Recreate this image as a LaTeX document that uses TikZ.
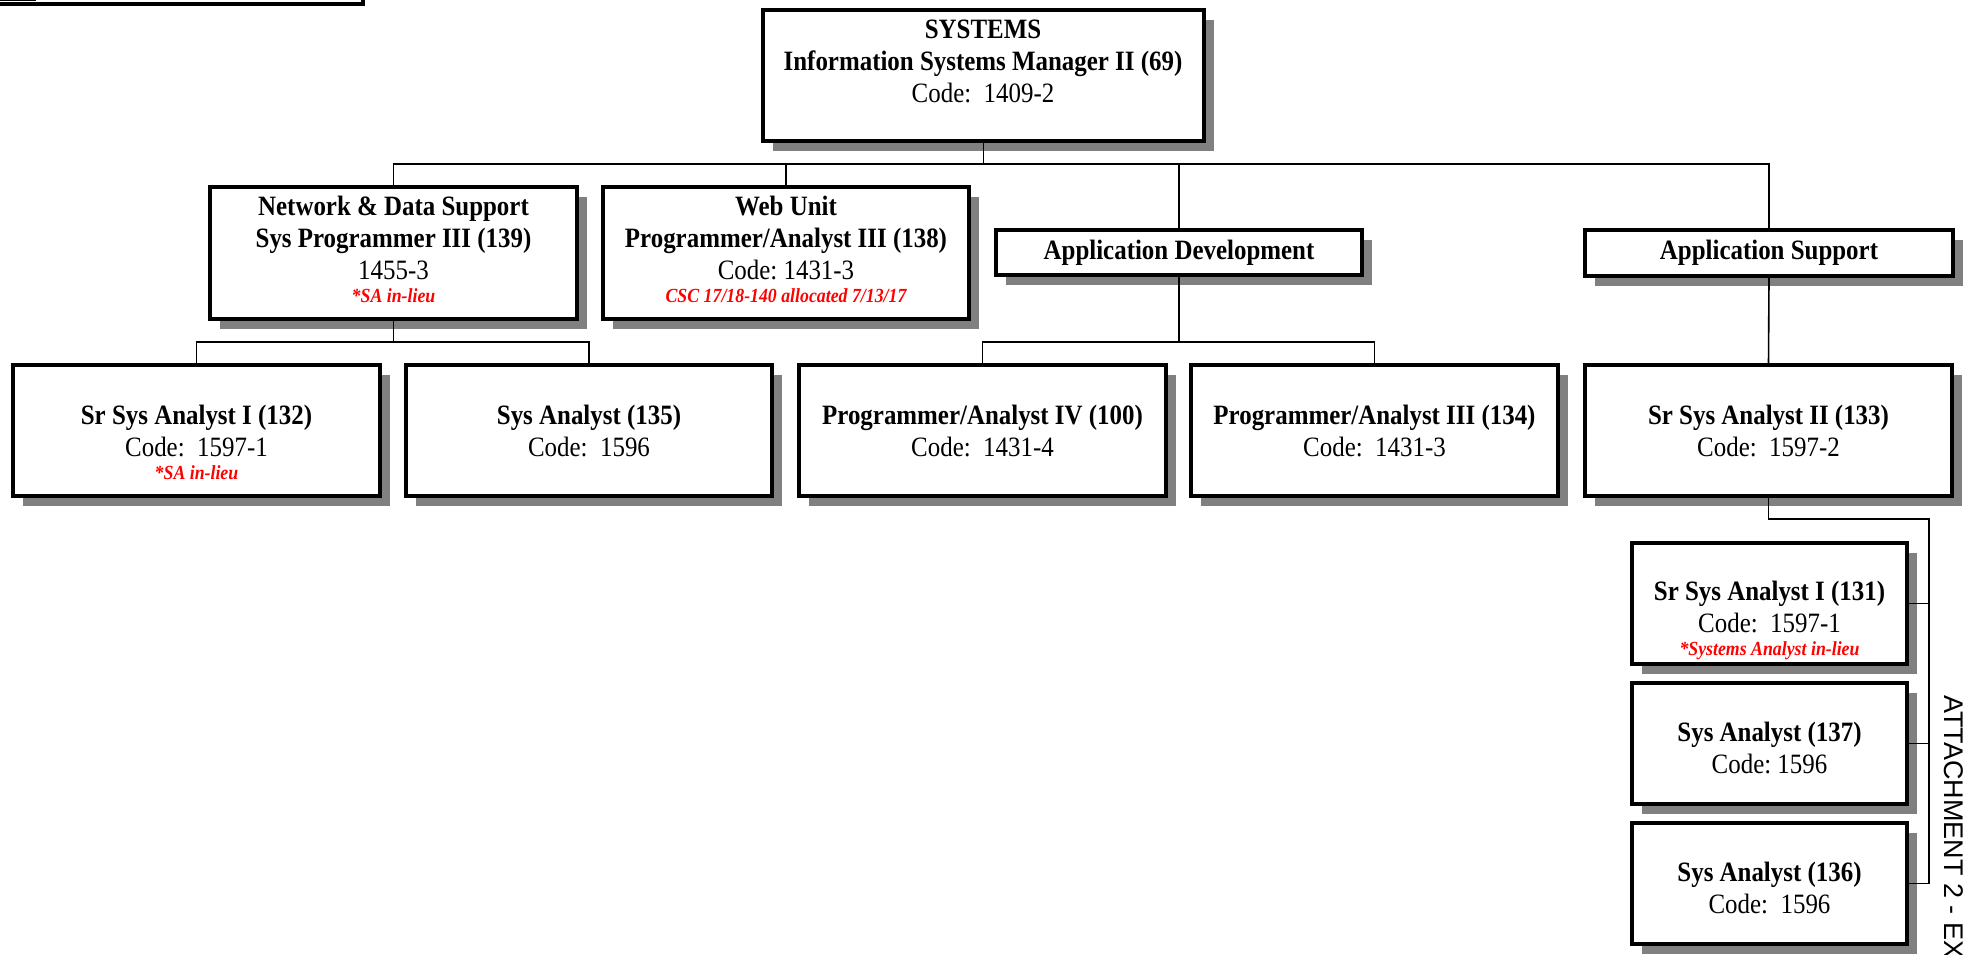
\documentclass[tikz,border=0pt]{standalone}
\usepackage{fontspec}
\setmainfont{Liberation Serif}[FakeStretch=0.89]
\newfontfamily\attfont{Liberation Sans}
\usetikzlibrary{shadows}
\definecolor{shadowgray}{HTML}{808080}
\definecolor{notered}{HTML}{FF0000}
\begin{document}
\begin{tikzpicture}[x=0.5pt, y=-0.5pt,
  box/.style 2 args={draw, line width=2pt, fill=white, inner sep=0pt,
    minimum width=#1, minimum height=#2,
    general shadow={fill=shadowgray, shadow xshift=5pt, shadow yshift=-5pt}},
  lines/.style={align=center, font=\fontsize{14}{16}\selectfont, inner sep=0pt},
  note/.style={font=\fontsize{10}{12}\selectfont\bfseries\itshape, text=notered, inner sep=0pt},
  link/.style={draw, line width=0.8pt},
  att/.style={font=\attfont\fontsize{13.5}{16}\selectfont, inner sep=0pt}]

\useasboundingbox (0,0) rectangle (1965,954);
\fill[white] (0,0) rectangle (1965,954);

% frame of the title block in the upper left corner
\draw[line width=2pt] (-20,-40) rectangle (363,4);
\draw[line width=0.6pt] (-20,-40) rectangle (35,0.5);

% head of the unit
\node[box={220.5pt}{65.5pt}] (top) at (983.5,75.5) {};
\node[lines] (top-t) at (983,61) {\textbf{SYSTEMS}\\\textbf{Information Systems Manager II (69)}\\Code:\ \ 1409-2};

% second level
\node[box={183.5pt}{66pt}] (net) at (393.5,253) {};
\node[lines] (net-t) at (393.5,237.5) {\textbf{Network \& Data Support}\\\textbf{Sys Programmer III (139)}\\1455-3};
\node[note] (net-n) at (393.5,296) {*SA in-lieu};

\node[box={183pt}{66pt}] (web) at (786,253) {};
\node[lines] (web-t) at (786,237.5) {\textbf{Web Unit}\\\textbf{Programmer/Analyst III (138)}\\Code:\ 1431-3};
\node[note] (web-n) at (786,296) {CSC 17/18-140 allocated 7/13/17};

\node[box={183pt}{22.5pt}, lines] (ad) at (1179,252.5) {\textbf{Application Development}};
\node[box={184pt}{23pt}, lines] (as) at (1769,253) {\textbf{Application Support}};

% third level
\node[box={183.5pt}{65.5pt}, lines] (sa132) at (196.5,430.5) {\textbf{Sr Sys Analyst I (132)}\\Code:\ \ 1597-1};
\node[note] (sa132-n) at (196.5,472.5) {*SA in-lieu};
\node[box={183pt}{65.5pt}, lines] (sa135) at (589,430.5) {\textbf{Sys Analyst (135)}\\Code:\ \ 1596};
\node[box={183.5pt}{65.5pt}, lines] (pa100) at (982.5,430.5) {\textbf{Programmer/Analyst IV (100)}\\Code:\ \ 1431-4};
\node[box={183.5pt}{65.5pt}, lines] (pa134) at (1374.5,430.5) {\textbf{Programmer/Analyst III (134)}\\Code:\ \ 1431-3};
\node[box={183.5pt}{65.5pt}, lines] (ssa133) at (1768.5,430.5) {\textbf{Sr Sys Analyst II (133)}\\Code:\ \ 1597-2};

% staff under Sr Sys Analyst II
\node[box={137.5pt}{60.5pt}] (ssa131) at (1769.5,603.5) {};
\node[lines] (ssa131-t) at (1769.5,607) {\textbf{Sr Sys Analyst I (131)}\\Code:\ \ 1597-1};
\node[note] (ssa131-n) at (1769.5,650.4) {*Systems Analyst in-lieu};
\node[box={137.5pt}{60.5pt}] (sa137) at (1769.5,743.5) {};
\node[lines] (sa137-t) at (1769.5,747.5) {\textbf{Sys Analyst (137)}\\Code:\ 1596};
\node[box={137.5pt}{60.5pt}] (sa136) at (1769.5,883.5) {};
\node[lines] (sa136-t) at (1769.5,888) {\textbf{Sys Analyst (136)}\\Code:\ \ 1596};

% side caption
\node[att, rotate=-90, anchor=base west] (att) at (1944,695) {ATTACHMENT 2 - EX};

% reporting lines
\coordinate (bus) at (0,164);
\coordinate (nbus) at (0,342);
\coordinate (sbus) at (1929,519);

\draw[link] (net.north) |- (as.north |- bus) -- (as.north);
\draw[link] (top.south) -- (top.south |- bus);
\draw[link] (web.north) -- (web.north |- bus);
\draw[link] (ad.north) -- (ad.north |- bus);

\draw[link] (net.south) -- (net.south |- nbus);
\draw[link] (sa132.north) |- (sa135.north |- nbus) -- (sa135.north);
\draw[link] (ad.south) -- (ad.south |- nbus);
\draw[link] (pa100.north) |- (pa134.north |- nbus) -- (pa134.north);
\draw[link] (as.south) -- (ssa133.north);

\draw[link] (ssa133.south) |- (sbus) |- (sa136.east);
\draw[link] (ssa131.east) -- (ssa131.east -| sbus);
\draw[link] (sa137.east) -- (sa137.east -| sbus);
\end{tikzpicture}
\end{document}
